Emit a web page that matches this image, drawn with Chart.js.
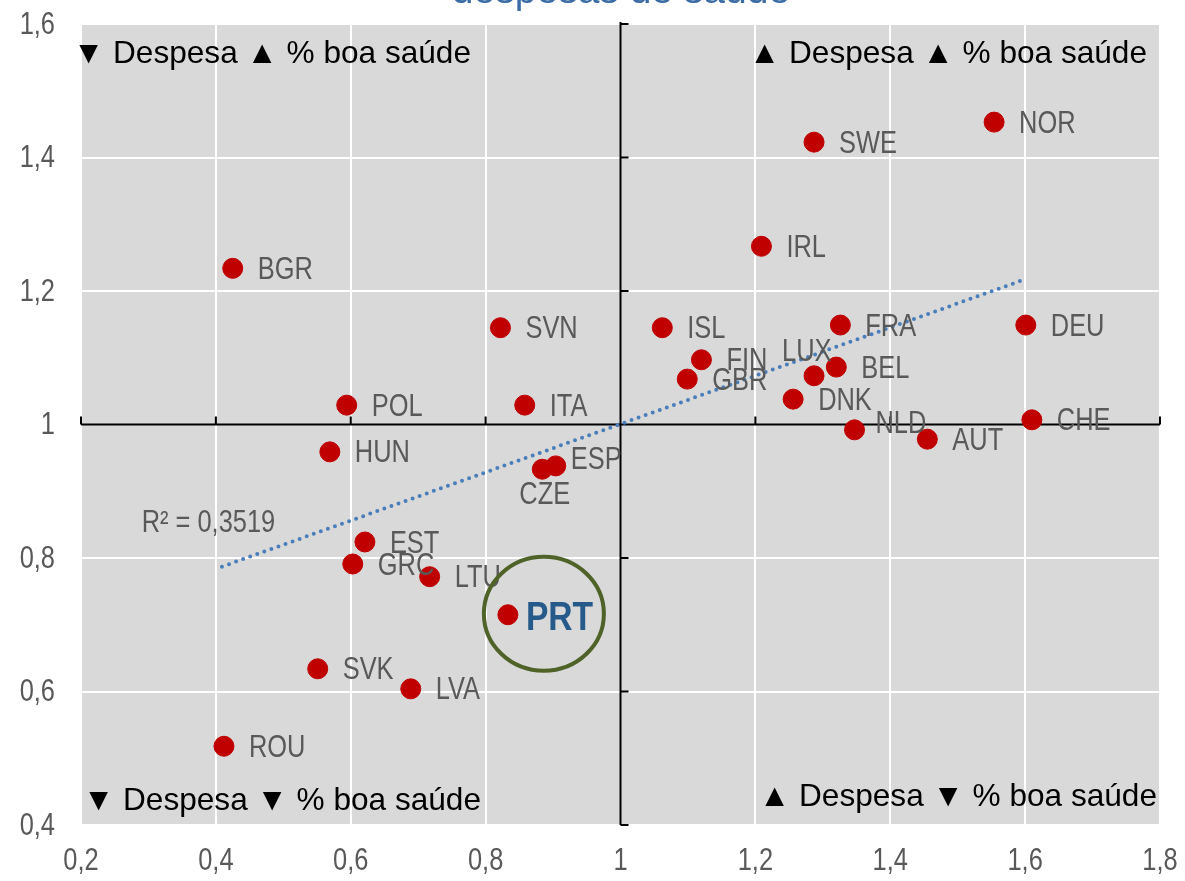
<!DOCTYPE html>
<html>
<head>
<meta charset="utf-8">
<script src="https://cdn.jsdelivr.net/npm/chart.js@4/dist/chart.umd.min.js"></script>
<style>
  html, body { margin: 0; padding: 0; background: #ffffff; }
  #wrap { width: 1185px; height: 881px; position: relative; }
</style>
</head>
<body>
<div id="wrap"><canvas id="c"></canvas></div>
<script>
// ---- data ----
const countries = ['NOR','SWE','IRL','BGR','SVN','ISL','FRA','DEU','FIN','LUX','BEL','GBR','DNK','NLD','AUT','CHE','POL','ITA','HUN','ESP','CZE','EST','GRC','LTU','PRT','SVK','LVA','ROU'];
const spendRatio = [1.554,1.287,1.209,0.425,0.822,1.062,1.326,1.601,1.120,1.287,1.320,1.099,1.256,1.347,1.455,1.610,0.594,0.858,0.569,0.904,0.884,0.621,0.603,0.717,0.833,0.551,0.689,0.412];
const healthRatio = [1.453,1.423,1.267,1.234,1.145,1.145,1.149,1.149,1.097,1.073,1.086,1.068,1.038,0.992,0.978,1.007,1.029,1.029,0.959,0.938,0.933,0.824,0.791,0.772,0.715,0.634,0.604,0.518];
const trendX = [0.409, 1.601];
const trendY = [0.787, 1.218];
const xTicks = [0.2,0.4,0.6,0.8,1,1.2,1.4,1.6,1.8];
const yTicks = [0.4,0.6,0.8,1,1.2,1.4,1.6];
const r2Text = 'R² = 0,3519';
const titleText = 'despesas de saúde';
const quadrantTexts = ['▼ Despesa ▲ % boa saúde','▲ Despesa ▲ % boa saúde','▼ Despesa ▼ % boa saúde','▲ Despesa ▼ % boa saúde'];
const highlight = 'PRT';

// ---- styling / placement (not data) ----
const REG = "'Liberation Sans',Arial,sans-serif";
const NARROW_SCALE = 0.82;
const labelOffsets = { LUX:[-32,-23], CZE:[-23,26], ESP:[15,-5], NLD:[21,-5], PRT:[18,4] };
const quadrantPlace = [
  {x:0.2, y:1.555, align:'left', dx:-8},
  {x:1.8, y:1.555, align:'right', dx:-13},
  {x:0.2, y:0.436, align:'left', dx:2},
  {x:1.8, y:0.442, align:'right', dx:-3}
];
const r2Place = {x:0.29, y:0.852};
const fmt = v => String(v).replace('.', ',');

function narrowText(ctx, text, x, y, align){
  ctx.save();
  ctx.translate(x, y);
  ctx.scale(NARROW_SCALE, 1);
  ctx.textAlign = align;
  ctx.fillText(text, 0, 0);
  ctx.restore();
}

const points = countries.map((c,i)=>({x:spendRatio[i], y:healthRatio[i], label:c}));
const trend = trendX.map((x,i)=>({x:x, y:trendY[i]}));

const decor = {
  id:'decor',
  beforeDraw(chart){
    const {ctx, chartArea:a, scales:{x, y}} = chart;
    ctx.save();
    ctx.fillStyle = '#d9d9d9';
    ctx.fillRect(a.left, a.top, a.right-a.left, a.bottom-a.top);
    ctx.restore();
    // title (cut off at top)
    ctx.save();
    ctx.fillStyle = '#3c6ca6';
    ctx.font = '39px ' + REG;
    ctx.textAlign = 'center';
    ctx.textBaseline = 'alphabetic';
    ctx.fillText(titleText, 621, 3);
    ctx.restore();
    // tick labels (narrow)
    ctx.save();
    ctx.fillStyle = '#595959';
    ctx.font = '31px ' + REG;
    ctx.textBaseline = 'middle';
    yTicks.forEach(v=>narrowText(ctx, fmt(v), a.left-26, y.getPixelForValue(v)+1, 'right'));
    xTicks.forEach(v=>narrowText(ctx, fmt(v), x.getPixelForValue(v), a.bottom+36, 'center'));
    ctx.restore();
  },
  beforeDatasetsDraw(chart){
    const {ctx, chartArea:a, scales:{x, y}} = chart;
    const x1 = x.getPixelForValue(1), y1 = y.getPixelForValue(1);
    ctx.save();
    ctx.strokeStyle = '#000';
    ctx.lineWidth = 2;
    ctx.beginPath();
    ctx.moveTo(x1, a.top-2); ctx.lineTo(x1, a.bottom);
    ctx.moveTo(a.left, y1); ctx.lineTo(a.right, y1);
    yTicks.forEach(v=>{ const p=y.getPixelForValue(v); ctx.moveTo(x1,p); ctx.lineTo(x1+8,p); });
    xTicks.forEach(v=>{ if(v===1) return; const p=x.getPixelForValue(v); ctx.moveTo(p,y1); ctx.lineTo(p,y1-8); });
    ctx.stroke();
    ctx.restore();
  },
  afterDatasetsDraw(chart){
    const {ctx, scales:{x, y}} = chart;
    ctx.save();
    ctx.textBaseline = 'middle';
    // point labels
    points.forEach(p=>{
      const px = x.getPixelForValue(p.x), py = y.getPixelForValue(p.y);
      const off = labelOffsets[p.label] || [25,2];
      if (p.label === highlight) {
        ctx.font = 'bold 41px ' + REG;
        ctx.fillStyle = '#255a8a';
      } else {
        ctx.font = '31px ' + REG;
        ctx.fillStyle = '#595959';
      }
      narrowText(ctx, p.label, px+off[0], py+off[1], 'left');
    });
    // highlight circle
    const h = points.find(p=>p.label===highlight);
    if (h) {
      const hx = x.getPixelForValue(h.x)+36, hy = y.getPixelForValue(h.y)-1;
      ctx.beginPath();
      ctx.strokeStyle = '#4f6228';
      ctx.lineWidth = 4;
      ctx.ellipse(hx, hy, 60, 57, 0, 0, Math.PI*2);
      ctx.stroke();
    }
    // R2
    ctx.font = '31px ' + REG;
    ctx.fillStyle = '#595959';
    narrowText(ctx, r2Text, x.getPixelForValue(r2Place.x), y.getPixelForValue(r2Place.y), 'left');
    // quadrant texts
    ctx.font = '31.6px ' + REG;
    ctx.fillStyle = '#000';
    quadrantTexts.forEach((t,i)=>{
      const q = quadrantPlace[i];
      ctx.textAlign = q.align;
      ctx.fillText(t, x.getPixelForValue(q.x)+q.dx, y.getPixelForValue(q.y));
    });
    ctx.restore();
  }
};

const gridColor = c => (c.tick && c.tick.value === 1) ? 'rgba(0,0,0,0)' : '#ffffff';

new Chart(document.getElementById('c'), {
  type: 'scatter',
  data: {
    datasets: [
      {
        label: 'trend',
        data: trend,
        showLine: true,
        borderColor: '#4a7ebb',
        borderWidth: 4,
        borderDash: [0, 7.5],
        borderCapStyle: 'round',
        pointRadius: 0,
        fill: false,
        order: 2
      },
      {
        label: 'países',
        data: points,
        backgroundColor: '#c00000',
        borderColor: '#c00000',
        pointRadius: 10,
        pointHoverRadius: 10,
        order: 1
      }
    ]
  },
  options: {
    responsive: true,
    maintainAspectRatio: false,
    animation: false,
    events: [],
    layout: { padding: { top: 24, right: 25, left: 0, bottom: 0 } },
    plugins: { legend: { display: false }, tooltip: { enabled: false }, title: { display: false } },
    scales: {
      x: {
        type: 'linear', min: 0.2, max: 1.8,
        afterBuildTicks: s => { s.ticks = xTicks.map(v=>({value:v})); },
        afterFit: s => { s.height = 56; s.paddingLeft = 0; s.paddingRight = 0; },
        border: { display: false },
        grid: { color: gridColor, lineWidth: 2, drawTicks: false },
        ticks: { display: false }
      },
      y: {
        type: 'linear', min: 0.4, max: 1.6,
        afterBuildTicks: s => { s.ticks = yTicks.map(v=>({value:v})); },
        afterFit: s => { s.width = 81; s.paddingTop = 0; s.paddingBottom = 0; },
        border: { display: false },
        grid: { color: gridColor, lineWidth: 2, drawTicks: false },
        ticks: { display: false }
      }
    }
  },
  plugins: [decor]
});
</script>
</body>
</html>
